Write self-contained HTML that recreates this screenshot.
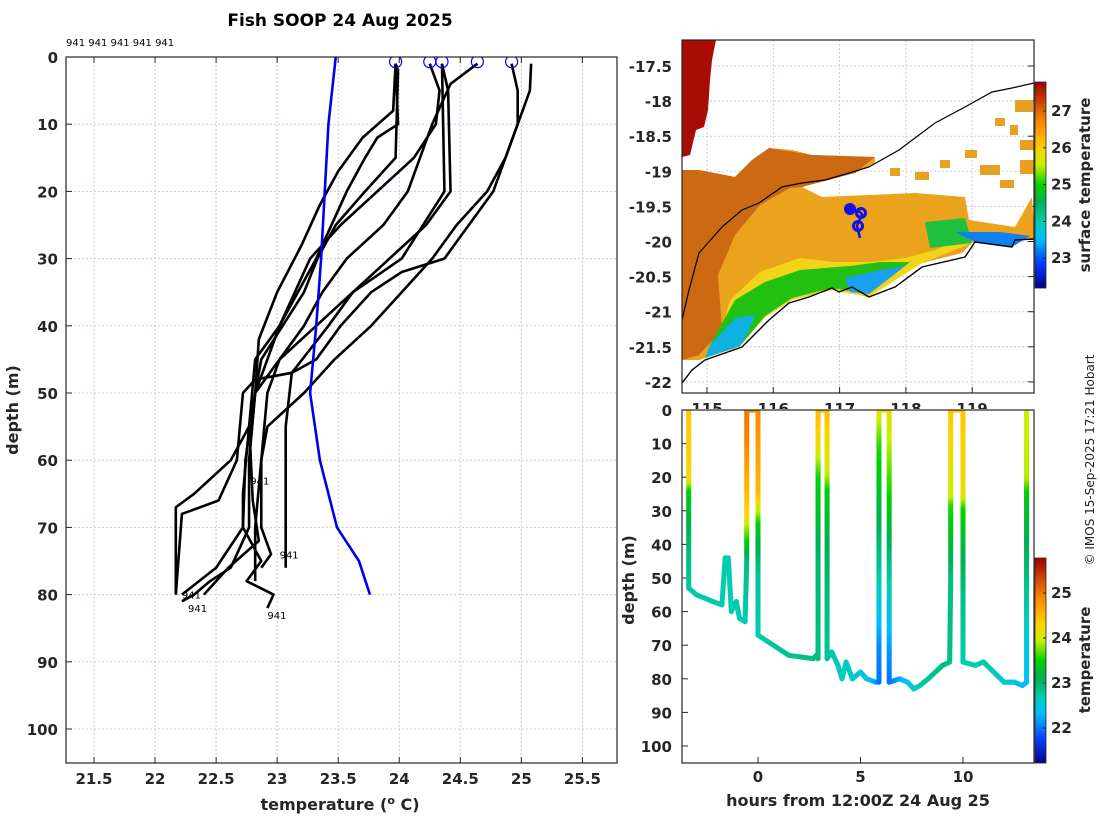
<!DOCTYPE html>
<html><head><meta charset="utf-8">
<style>
body{margin:0;background:#fff;}
svg{display:block;font-family:"DejaVu Sans","Liberation Sans",sans-serif;}
.tl{font-size:15px;font-weight:bold;fill:#262626;}
.ax{font-size:16px;font-weight:bold;fill:#262626;}
.sm{font-size:10px;fill:#000;}
</style></head><body>
<svg id="c" width="1100" height="820" viewBox="0 0 1100 820">
<defs>
<clipPath id="clipL"><rect x="66" y="57" width="551" height="706"/></clipPath>
<clipPath id="clipM"><rect x="682" y="40" width="352" height="353"/></clipPath>
<clipPath id="clipB"><rect x="682" y="410" width="352" height="353"/></clipPath>
</defs>
<text x="340" y="26" text-anchor="middle" style="font-size:17px;font-weight:bold">Fish SOOP 24 Aug 2025</text>
<text x="66" y="46" class="sm">941 941 941 941 941</text>
<g id="gL"></g>
<g id="gM"></g>
<g id="gB"></g>
<text transform="translate(1094,460) rotate(-90)" text-anchor="middle" style="font-size:12px;fill:#222">© IMOS 15-Sep-2025 17:21 Hobart</text>
</svg>
<script>
// ---------- profile panel data ----------
const climDepths=[0,10,20,30,40,50,60,70,75,80];
const climTemps=[23.48,23.42,23.39,23.36,23.32,23.27,23.35,23.49,23.67,23.76];
const profDepths=[
 [1,2,15,20,25,30,35,45,55,65,70,75,78,80,82],
 [1,10,12,15,20,30,40,45,55,60,65,67,75,80],
 [1,5,10,15,20,25,30,40,50,60,70,76,78,80,81],
 [1,5,20,25,30,35,40,45,50,60,70,74,76],
 [1,20,30,35,40,47,55,70,76],
 [1,4,10,20,25,30,35,40,45,50,60,70,76,80],
 [1,5,10,15,20,25,30,35,40,45,50,55,60,70,78],
 [1,5,10,15,20,25,30,32,35,40,45,47,48,50,60,66,68,80],
 [1,8,12,17,22,28,35,42,50,58,66,72,76,80]
];
const profTemps=[
 [23.97,23.99,23.97,23.72,23.48,23.33,23.22,22.87,22.77,22.72,22.72,22.87,22.75,22.97,22.92],
 [23.97,23.99,23.82,23.72,23.57,23.32,23.02,22.82,22.77,22.62,22.32,22.17,22.17,22.17],
 [24.25,24.33,24.3,24.12,23.82,23.52,23.27,23.02,22.82,22.77,22.77,22.62,22.45,22.32,22.22],
 [24.35,24.4,24.42,24.22,23.92,23.62,23.32,23.02,22.92,22.87,22.87,22.95,22.87],
 [24.35,24.37,24.02,23.62,23.42,23.12,23.07,23.07,23.07],
 [24.64,24.42,24.27,24.07,23.87,23.57,23.37,23.22,23.02,22.82,22.74,22.72,22.5,22.22],
 [24.92,24.97,24.97,24.87,24.72,24.47,24.27,24.02,23.77,23.47,23.22,22.92,22.87,22.82,22.82],
 [25.08,25.07,24.97,24.87,24.77,24.57,24.37,24.02,23.77,23.52,23.32,23.12,22.82,22.72,22.67,22.52,22.22,22.17],
 [23.97,23.95,23.7,23.5,23.35,23.2,23.0,22.85,22.82,22.78,22.8,22.85,22.6,22.4]
];
const circleTemps=[23.97,24.25,24.35,24.64,24.92];
const idLabels=[[22.78,63],[23.02,74],[22.22,80],[22.27,82],[22.92,83]];
const xTicksL=[21.5,22,22.5,23,23.5,24,24.5,25,25.5];
const yTicksL=[0,10,20,30,40,50,60,70,80,90,100];
// ---------- map ticks ----------
const latTicks=[-17.5,-18,-18.5,-19,-19.5,-20,-20.5,-21,-21.5,-22];
const lonTicks=[115,116,117,118,119];
const sstTicks=[23,24,25,26,27];
// ---------- depth-time data ----------
const trackHours=[-3.38,-3.38,-3.38,-3.38,-3.38,-3.0,-2.2,-1.76,-1.6,-1.45,-1.3,-1.06,-0.9,-0.63,-0.55,-0.55,-0.55,-0.55,
 0,0,0,0,0,0,0.5,1.5,2.7,2.85,2.93,2.93,2.93,2.93,2.93,
 3.37,3.37,3.37,3.37,3.37,3.6,3.9,4.1,4.3,4.6,5.0,5.3,5.75,5.9,5.9,5.9,5.9,5.9,5.9,
 6.4,6.4,6.4,6.4,6.4,6.9,7.3,7.6,7.9,8.3,9.0,9.35,9.4,9.4,9.4,9.4,
 10,10,10,10,10,10.6,11,11.5,12,12.5,12.9,13.1,13.1,13.1,13.1,13.1,13.1];
const trackDepths=[0,20,25,40,53,55,57,58,44,44,60,57,62,63,45,30,10,0,
 0,25,30,35,50,67,69,73,74,73,74,45,20,10,0,
 0,20,25,50,74,72,76,80,75,80,78,80,81,81,70,50,30,10,0,
 0,30,55,70,81,80,81,83,82,80,76,75,50,28,25,0,
 0,25,30,55,75,76,75,78,81,81,82,81,60,45,25,20,0];
const trackTemps=[24.4,24.3,23.4,23.0,22.75,22.72,22.72,22.7,22.7,22.7,22.7,22.7,22.7,22.7,22.9,24.3,24.9,25.0,
 24.9,24.5,24.0,23.4,22.8,22.7,22.75,22.85,22.9,22.9,22.9,23.0,23.5,24.2,24.5,
 24.5,23.9,23.4,23.0,22.8,22.75,22.7,22.6,22.65,22.55,22.5,22.4,22.2,22.0,22.1,22.7,23.2,23.6,24.1,
 24.2,23.4,22.6,22.2,22.0,22.2,22.4,22.6,22.7,22.8,22.9,22.9,22.9,23.6,24.0,24.4,
 24.4,24.2,23.5,22.9,22.7,22.7,22.75,22.65,22.55,22.45,22.35,22.3,22.7,23.0,23.4,23.9,24.0];
const xTicksB=[0,5,10];
const yTicksB=[0,10,20,30,40,50,60,70,80,90,100];
const tTicksB=[22,23,24,25];

const NS='http://www.w3.org/2000/svg';
function mk(tag,attrs,parent){const e=document.createElementNS(NS,tag);for(const k in attrs)e.setAttribute(k,attrs[k]);parent.appendChild(e);return e;}
const stops=[[0,[0,0,140]],[0.12,[0,60,255]],[0.24,[0,190,255]],[0.32,[0,205,180]],[0.42,[0,176,80]],[0.5,[0,210,0]],[0.6,[200,240,0]],[0.68,[255,208,0]],[0.8,[255,140,0]],[0.9,[208,72,0]],[1,[160,0,0]]];
function cmap(t){t=Math.max(0,Math.min(1,t));for(let i=1;i<stops.length;i++){if(t<=stops[i][0]){const a=stops[i-1],b=stops[i];const f=(t-a[0])/(b[0]-a[0]);const c=a[1].map((v,j)=>Math.round(v+(b[1][j]-v)*f));return `rgb(${c})`;}}return 'rgb(160,0,0)';}

// ===== left panel =====
const gL=document.getElementById('gL');
const xL=t=>94+(t-21.5)*122.1, yL=d=>57+d*6.72;
xTicksL.forEach(t=>{
 const l=mk('line',{x1:xL(t),x2:xL(t),y1:57,y2:763,stroke:'#c9c9e6','stroke-dasharray':'2,2','stroke-width':1},gL);
 
 mk('line',{x1:xL(t),x2:xL(t),y1:763,y2:757,stroke:'#262626'},gL);
 mk('line',{x1:xL(t),x2:xL(t),y1:57,y2:63,stroke:'#262626'},gL);
 const tx=mk('text',{x:xL(t),y:784,'text-anchor':'middle',class:'tl'},gL);tx.textContent=t;
 
});
yTicksL.forEach(d=>{
 const l=mk('line',{x1:66,x2:617,y1:yL(d),y2:yL(d),stroke:'#c9c9e6','stroke-dasharray':'2,2','stroke-width':1},gL);
 
 mk('line',{x1:66,x2:72,y1:yL(d),y2:yL(d),stroke:'#262626'},gL);
 const tx=mk('text',{x:58,y:yL(d)+6,'text-anchor':'end',class:'tl'},gL);tx.textContent=d;
 
});
const lines=mk('g',{'clip-path':'url(#clipL)'},gL);
profDepths.forEach((ds,i)=>{
 const p=mk('polyline',{points:ds.map((d,j)=>xL(profTemps[i][j])+','+yL(d)).join(' '),fill:'none',stroke:'#000','stroke-width':2.6,'stroke-linejoin':'round'},lines);
 
});
const cl=mk('polyline',{points:climDepths.map((d,j)=>xL(climTemps[j])+','+yL(d)).join(' '),fill:'none',stroke:'#0000ee','stroke-width':2.6},lines);

circleTemps.forEach(t=>{
 const c=mk('circle',{cx:xL(t),cy:yL(0.7),r:6,fill:'none',stroke:'#0000ff','stroke-width':1.2},lines);
 
});
idLabels.forEach(p=>{
 const tx=mk('text',{x:xL(p[0]),y:yL(p[1])+4,class:'sm'},lines);tx.textContent='941';
 
});
mk('rect',{x:66,y:57,width:551,height:706,fill:'none',stroke:'#262626','stroke-width':1.2},gL);
let t1=mk('text',{x:340,y:810,'text-anchor':'middle',class:'ax'},gL);t1.innerHTML='temperature (<tspan dy="-6" font-size="11">o</tspan><tspan dy="6"> C)</tspan>';

let t2=mk('text',{transform:'translate(18,410) rotate(-90)','text-anchor':'middle',class:'ax'},gL);t2.textContent='depth (m)';


// ===== map panel =====
const gM=document.getElementById('gM');
const xM=lon=>707+(lon-115)*66.3, yM=lat=>66+(-17.5-lat)*70.2;
lonTicks.forEach(l=>{
 mk('line',{x1:xM(l),x2:xM(l),y1:40,y2:393,stroke:'#c9c9e6','stroke-dasharray':'2,2'},gM);
 mk('line',{x1:xM(l),x2:xM(l),y1:393,y2:387,stroke:'#262626'},gM);
 const tx=mk('text',{x:xM(l),y:414,'text-anchor':'middle',class:'tl'},gM);tx.textContent=l;
 
});
latTicks.forEach(l=>{
 mk('line',{x1:682,x2:1034,y1:yM(l),y2:yM(l),stroke:'#c9c9e6','stroke-dasharray':'2,2'},gM);
 mk('line',{x1:1034,x2:1028,y1:yM(l),y2:yM(l),stroke:'#262626'},gM);
 const tx=mk('text',{x:672,y:yM(l)+6,'text-anchor':'end',class:'tl'},gM);tx.textContent=l;
 
});
const mp=mk('g',{'clip-path':'url(#clipM)'},gM);
function poly(pts,fill,name){const p=mk('polygon',{points:pts,fill:fill},mp);return p;}
poly('682,40 716,40 712,60 710,80 708,110 704,127 696,130 690,155 682,157','#a80c04','warm-water-patch');
poly('682,170 699,170 735,177 752,160 769,148 792,150 812,155 875,157 875,163 855,173 825,180 802,187 822,197 915,193 965,197 969,220 1015,227 1032,197 1034,227 1034,240 1012,240 972,243 962,253 922,263 869,297 832,290 792,300 765,317 739,347 699,360 682,360','#eba21c','sst-main-region');
poly('682,170 699,170 735,177 752,160 769,148 812,155 875,157 855,173 802,187 790,188 760,205 735,235 718,275 722,330 699,355 682,360','#cc6a14','sst-western-region');
poly('730,300 760,272 800,258 835,262 870,262 905,258 935,250 962,238 975,236 972,243 922,263 869,297 832,290 792,300 765,317 739,347 716,348','#f2d418','sst-yellow-band');
poly('735,300 765,282 800,270 850,266 880,262 910,262 869,294 832,288 792,298 765,316 740,346 712,352 710,345','#22c010','sst-green-band');
poly('925,222 965,218 972,243 930,248','#20c040','sst-green-patch');
poly('710,345 735,318 755,315 748,332 740,346 705,358','#10b0e0','sst-cyan-strip');
poly('845,278 880,270 905,266 869,294 850,292','#1aa0f0','sst-cyan-patch');
poly('955,232 1000,232 1030,236 1012,247 975,242','#1080f0','sst-blue-patch');
[[995,118,10,8],[1010,125,8,10],[1020,140,14,10],[965,150,12,8],[980,165,20,10],[940,160,10,8],[915,172,14,8],[890,168,10,8],[1000,180,14,8],[1020,160,14,14],[1015,100,18,12]].forEach(r=>{
 const e=mk('rect',{x:r[0],y:r[1],width:r[2],height:r[3],fill:'#e8a020'},mp);
});
let sh=mk('polyline',{points:'682,320 689,290 699,253 722,227 742,210 759,203 782,187 802,183 825,180 849,173 869,167 899,150 935,123 965,107 992,92 1012,88 1034,83',fill:'none',stroke:'#000','stroke-width':1.2},mp);

let co=mk('polyline',{points:'682,383 692,370 705,360 742,347 769,320 789,303 809,297 832,288 839,292 852,287 869,297 895,287 922,267 965,257 975,242 1012,247 1015,240 1034,239',fill:'none',stroke:'#000','stroke-width':1.4},mp);

let st=mk('polyline',{points:'850,209 860,212 862,214 857,226 860,238',fill:'none',stroke:'#1010ee','stroke-width':2.5},mp);

[[850,209],[861,213],[858,226]].forEach(p=>{const c=mk('circle',{cx:p[0],cy:p[1],r:4.5,fill:'none',stroke:'#1010ee','stroke-width':3},mp);});
mk('circle',{cx:849,cy:209,r:4,fill:'#1010ee'},mp);
mk('rect',{x:682,y:40,width:352,height:353,fill:'none',stroke:'#262626','stroke-width':1.2},gM);
// map colorbar
const cbM=mk('g',{},gM);
const sMin=22.19,sMax=27.79,yS=t=>288-(t-sMin)/(sMax-sMin)*206;
for(let i=0;i<103;i++){const t=sMin+(i+0.5)/103*(sMax-sMin);mk('rect',{x:1035,y:288-(i+1)*2,width:11,height:2.2,fill:cmap((t-sMin)/(sMax-sMin))},cbM);}
mk('rect',{x:1035,y:82,width:11,height:206,fill:'none',stroke:'#262626','stroke-width':0.8},cbM);
sstTicks.forEach(t=>{mk('line',{x1:1046,x2:1043,y1:yS(t),y2:yS(t),stroke:'#262626'},cbM);const tx=mk('text',{x:1051,y:yS(t)+5,class:'tl','font-size':'14'},cbM);tx.textContent=t;});
let t3=mk('text',{transform:'translate(1090,185) rotate(-90)','text-anchor':'middle',class:'tl'},gM);t3.textContent='surface temperature';


// ===== bottom panel =====
const gB=document.getElementById('gB');
mk('rect',{x:676,y:409,width:358,height:354,fill:'#fff'},gB);
const xB=h=>758+h*20.5, yB=d=>410+d*3.36;
const tMin=21.22,tMax=25.78;
xTicksB.forEach(h=>{mk('line',{x1:xB(h),x2:xB(h),y1:763,y2:757,stroke:'#262626'},gB);const tx=mk('text',{x:xB(h),y:782,'text-anchor':'middle',class:'tl'},gB);tx.textContent=h;});
yTicksB.forEach(d=>{mk('line',{x1:682,x2:688,y1:yB(d),y2:yB(d),stroke:'#262626'},gB);const tx=mk('text',{x:672,y:yB(d)+6,'text-anchor':'end',class:'tl'},gB);tx.textContent=d;});
const dots=mk('g',{'clip-path':'url(#clipB)'},gB);
for(let i=0;i<trackHours.length-1;i++){
 const x0=xB(trackHours[i]),y0=yB(trackDepths[i]),x1=xB(trackHours[i+1]),y1=yB(trackDepths[i+1]);
 const n=Math.max(1,Math.ceil(Math.hypot(x1-x0,y1-y0)/2));
 for(let k=0;k<n;k++){const f=k/n;const t=trackTemps[i]+(trackTemps[i+1]-trackTemps[i])*f;
  mk('circle',{cx:x0+(x1-x0)*f,cy:y0+(y1-y0)*f,r:2.6,fill:cmap((t-tMin)/(tMax-tMin))},dots);}
}
mk('rect',{x:682,y:410,width:352,height:353,fill:'none',stroke:'#262626','stroke-width':1.2},gB);
const cbB=mk('g',{},gB);
const yT=t=>763-(t-tMin)/(tMax-tMin)*205;
for(let i=0;i<103;i++){const t=tMin+(i+0.5)/103*(tMax-tMin);mk('rect',{x:1035,y:763-(i+1)*1.99,width:11,height:2.2,fill:cmap((t-tMin)/(tMax-tMin))},cbB);}
mk('rect',{x:1035,y:558,width:11,height:205,fill:'none',stroke:'#262626','stroke-width':0.8},cbB);
tTicksB.forEach(t=>{mk('line',{x1:1046,x2:1043,y1:yT(t),y2:yT(t),stroke:'#262626'},cbB);const tx=mk('text',{x:1051,y:yT(t)+5,class:'tl','font-size':'14'},cbB);tx.textContent=t;});
let t4=mk('text',{transform:'translate(1090,660) rotate(-90)','text-anchor':'middle',class:'tl'},gB);t4.textContent='temperature';

let t5=mk('text',{x:858,y:806,'text-anchor':'middle',class:'ax'},gB);t5.textContent='hours from 12:00Z 24 Aug 25';

let t6=mk('text',{transform:'translate(634,580) rotate(-90)','text-anchor':'middle',class:'ax'},gB);t6.textContent='depth (m)';

</script>
</body></html>
